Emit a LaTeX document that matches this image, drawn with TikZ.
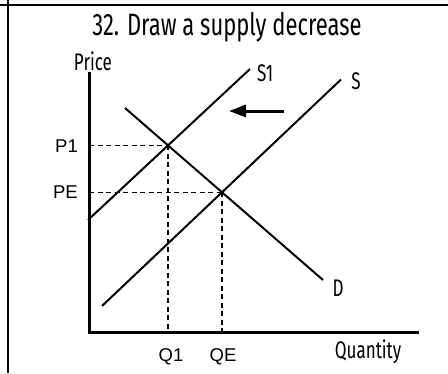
\documentclass[tikz,border=0pt]{standalone}
\usepackage{fontspec}
\setmainfont{Liberation Sans}
\newfontfamily\condfont[FakeStretch=0.71]{Fira Sans}
\usetikzlibrary{arrows.meta}

\begin{document}
\begin{tikzpicture}[
						x=1pt, y=-1pt,
						every node/.style={inner sep=0pt},
						frame/.style={line width=2pt},
						axis/.style={line width=3pt},
						curve/.style={line width=2pt},
						guide/.style={line width=1.6pt, dash pattern=on 5pt off 3.5pt},
						shift arrow/.style={line width=3pt, -{Triangle[length=17pt, width=12pt]}},
						condlabel/.style={font=\condfont\fontsize{24}{26}\selectfont},
						ticklabel/.style={font=\fontsize{18.5}{20}\selectfont}
						]
						\useasboundingbox (0,0) rectangle (448,373);
						
						% worksheet frame
						\draw[frame] (8,0) -- (8,373);
						\draw[frame] (0,5) -- (448,5);
						
						\node[font=\condfont\fontsize{31}{33}\selectfont] (title) at (227,27) {32. Draw a supply decrease};
						
						% axes
						\coordinate (origin) at (89,332);
						\coordinate (ytop) at (89,72);
						\coordinate (xend) at (419,332);
						\draw[axis] (ytop) -- ([yshift=-1.5pt]origin);
						\draw[axis] ([xshift=-1.5pt]origin) -- (xend);
						\node[condlabel] (price) at (93,61) {Price};
						\node[condlabel] (quantity) at (368,352) {Quantity};
						
						% curve ends and equilibria
						\coordinate (S1low) at (88,220);
						\coordinate (S1high) at (250,69);
						\coordinate (Slow) at (102,306);
						\coordinate (Shigh) at (341,79.5);
						\coordinate (Dhigh) at (125,108);
						\coordinate (Dlow) at (323,280);
						\coordinate (E1) at (168,145.4);
						\coordinate (E) at (222,192.3);
						
						\draw[curve] (S1low) -- (S1high);
						\draw[curve] (Slow) -- (Shigh);
						\draw[curve] (Dhigh) -- (Dlow);
						
						\node[condlabel, anchor=west] (labS1) at (257,73) {S1};
						\node[condlabel] (labS) at (356,81) {S};
						\node[condlabel] (labD) at (338,288) {D};
						
						% dashed guides
						\coordinate (p1) at (89,145.4);
						\coordinate (pe) at (89,192.3);
						\coordinate (q1) at (170,332);
						\coordinate (qe) at (222,332);
						\draw[guide] (p1) -- (E1);
						\draw[guide] (E1) -- (E1 |- q1);
						\draw[guide] (pe) -- (E);
						\draw[guide] (E) -- (qe);
						
						\node[ticklabel, anchor=east] (labP1) at (78,146) {P1};
						\node[ticklabel, anchor=east] (labPE) at (78,192) {PE};
						\node[ticklabel] (labQ1) at (171,357) {Q1};
						\node[ticklabel] (labQE) at (223,357) {QE};
						
						% shift of supply
						\coordinate (tail) at (284,111);
						\coordinate (tip) at (229,111);
						\draw[shift arrow] (tail) -- (tip);
						
					\end{tikzpicture}
\end{document}
